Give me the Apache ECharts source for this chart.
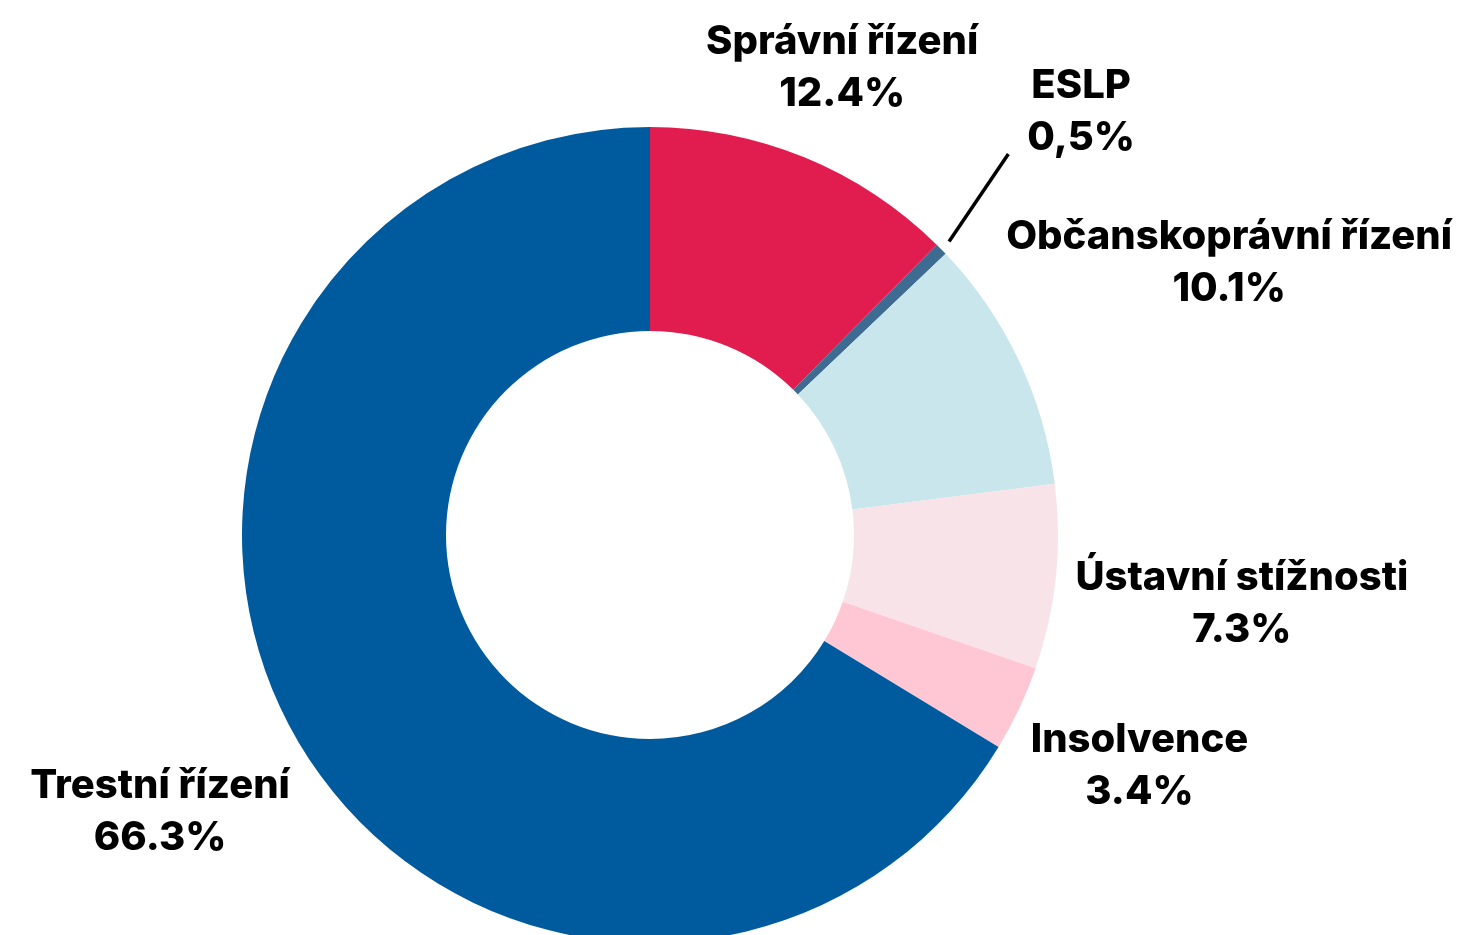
<!DOCTYPE html>
<html>
<head>
<meta charset="utf-8">
<script src="https://cdn.jsdelivr.net/npm/echarts@6/dist/echarts.min.js"></script>
<style>
  html, body { margin: 0; padding: 0; background: #fff; }
  #chart { width: 1468px; height: 935px; }
</style>
</head>
<body>
<div id="chart"></div>
<script>
var categories = ['Správní řízení', 'ESLP', 'Občanskoprávní řízení', 'Ústavní stížnosti', 'Insolvence', 'Trestní řízení'];
var values = [12.4, 0.5, 10.1, 7.3, 3.4, 66.3];
var valueLabels = ['12.4%', '0,5%', '10.1%', '7.3%', '3.4%', '66.3%'];
var colors = ['#E11D4F', '#3E6B92', '#C8E6EC', '#F8E3E8', '#FFC6D4', '#005B9E'];

// label placement: distance of label centre from the pie centre along the slice's mid angle, plus a small vertical nudge
var labelDist = [506, 604, 641, 595, 541, 562];
var labelDy = [1, 0, 3, 7, 1, 2];
var cx = 650, cy = 535, rIn = 204, rOut = 408;

var total = values.reduce(function (a, b) { return a + b; }, 0);
var midAngles = [];
var acc = 0;
values.forEach(function (v) {
  var mid = 90 - (acc + v / 2) / total * 360;
  midAngles.push(mid * Math.PI / 180);
  acc += v;
});

var myChart = echarts.init(document.getElementById('chart'));
myChart.setOption({
  animation: false,
  series: [{
    type: 'pie',
    center: [cx, cy],
    radius: [rIn, rOut],
    startAngle: 90,
    clockwise: true,
    avoidLabelOverlap: false,
    silent: true,
    label: {
      show: true,
      position: 'outside',
      formatter: function (p) {
        return p.name + '\n' + valueLabels[p.dataIndex];
      },
      color: '#000',
      fontFamily: 'Inter',
      fontWeight: 800,
      fontSize: 40,
      lineHeight: 52,
      align: 'center'
    },
    labelLine: { show: false },
    labelLayout: function (params) {
      var i = params.dataIndex;
      var a = midAngles[i];
      var res = {
        x: cx + labelDist[i] * Math.cos(a),
        y: cy - labelDist[i] * Math.sin(a) + labelDy[i],
        align: 'center',
        verticalAlign: 'middle'
      };
      if (i === 1) {
        res.labelLinePoints = [
          [cx + 419 * Math.cos(a), cy - 419 * Math.sin(a)],
          [cx + 523 * Math.cos(a + 0.04), cy - 523 * Math.sin(a + 0.04)]
        ];
      }
      return res;
    },
    data: categories.map(function (name, i) {
      var item = { name: name, value: values[i], itemStyle: { color: colors[i] } };
      if (i === 1) {
        item.labelLine = { show: true, lineStyle: { color: '#000', width: 3.5 } };
      }
      return item;
    })
  }]
});
</script>
</body>
</html>
